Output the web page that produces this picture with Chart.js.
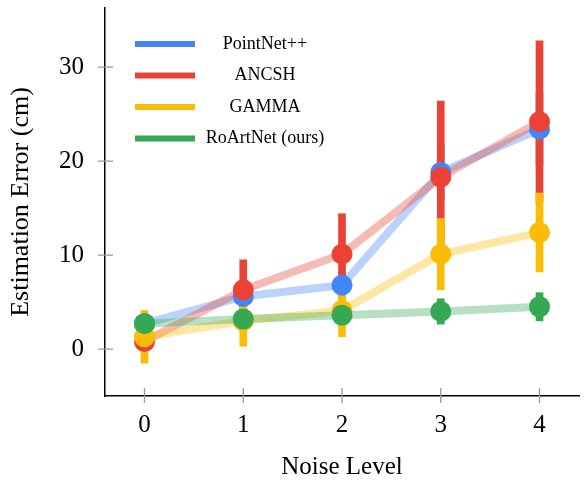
<!DOCTYPE html>
<html>
<head>
<meta charset="utf-8">
<script src="https://cdn.jsdelivr.net/npm/chart.js@4/dist/chart.umd.min.js"></script>
<style>
  body { margin: 0; background: #fff; }
  #wrap { width: 587px; height: 482px; }
</style>
</head>
<body>
<div id="wrap"><canvas id="errChart" width="587" height="482"></canvas></div>
<script>
const serif = "'Liberation Serif', 'Times New Roman', serif"

// data
const noiseLevels = [0, 1, 2, 3, 4]
const yTicks = [0, 10, 20, 30]
const seriesNames = ['PointNet++', 'ANCSH', 'GAMMA', 'RoArtNet (ours)']

const pointnetMean = [2.7, 5.6, 6.8, 18.8, 23.4]
const pointnetErr = [1.0, 1.5, 1.5, 3.0, 3.9]
const ancshMean = [0.8, 6.3, 10.1, 18.3, 24.2]
const ancshErr = [1.0, 3.2, 4.3, 8.1, 8.6]
const gammaMean = [1.3, 3.0, 4.1, 10.1, 12.4]
const gammaErr = [2.8, 2.7, 2.8, 3.8, 4.2]
const roartMean = [2.7, 3.2, 3.6, 4.0, 4.5]
const roartErr = [0.8, 0.8, 1.0, 1.35, 1.5]

const blue = '66,133,244'
const red = '234,67,53'
const yellow = '251,188,5'
const green = '52,168,83'

const series = [
  { name: seriesNames[0], mean: pointnetMean, err: pointnetErr, rgb: blue, z: 3 },
  { name: seriesNames[1], mean: ancshMean, err: ancshErr, rgb: red, z: 2 },
  { name: seriesNames[2], mean: gammaMean, err: gammaErr, rgb: yellow, z: 1 },
  { name: seriesNames[3], mean: roartMean, err: roartErr, rgb: green, z: 0 },
]

var datasets = []
series.forEach(function (s) {
  // faded connecting line
  datasets.push({
    type: 'line',
    label: s.name + ' line',
    data: noiseLevels.map(function (x, i) { return { x: x, y: s.mean[i] } }),
    borderColor: 'rgba(' + s.rgb + ',0.36)',
    borderWidth: 8,
    pointRadius: 0,
    tension: 0,
    fill: false,
    order: 30 + s.z,
  })
  // error bars as floating bars
  datasets.push({
    type: 'bar',
    label: s.name + ' err',
    data: noiseLevels.map(function (x, i) { return { x: x, y: [s.mean[i] - s.err[i], s.mean[i] + s.err[i]] } }),
    backgroundColor: 'rgb(' + s.rgb + ')',
    borderWidth: 0,
    barThickness: 7,
    grouped: false,
    order: 20 + s.z,
  })
  // markers
  datasets.push({
    type: 'line',
    label: s.name,
    data: noiseLevels.map(function (x, i) { return { x: x, y: s.mean[i] } }),
    showLine: false,
    pointRadius: 10.5,
    pointBorderWidth: 0,
    pointBackgroundColor: 'rgb(' + s.rgb + ')',
    borderColor: 'rgb(' + s.rgb + ')',
    order: 10 + s.z,
  })
})

// tick marks that cross the axis line
const crossTicks = {
  id: 'crossTicks',
  beforeDatasetsDraw(chart) {
    var ctx = chart.ctx
    var xs = chart.scales.x, ys = chart.scales.y
    ctx.save()
    ctx.strokeStyle = '#9a9a9a'
    ctx.lineWidth = 1.3
    ctx.beginPath()
    noiseLevels.forEach(function (v) {
      var px = xs.getPixelForValue(v)
      ctx.moveTo(px, ys.bottom - 8)
      ctx.lineTo(px, ys.bottom + 7)
    })
    yTicks.forEach(function (v) {
      var py = ys.getPixelForValue(v)
      ctx.moveTo(xs.left - 7, py)
      ctx.lineTo(xs.left + 8, py)
    })
    ctx.stroke()
    ctx.restore()
  }
}

// legend box in the upper left of the plot
const innerLegend = {
  id: 'innerLegend',
  afterDatasetsDraw(chart) {
    var ctx = chart.ctx
    var a = chart.chartArea
    ctx.save()
    ctx.font = '18px ' + serif
    ctx.textAlign = 'center'
    ctx.textBaseline = 'middle'
    series.forEach(function (s, i) {
      var y = a.top + 36 + i * 31.5
      ctx.strokeStyle = 'rgb(' + s.rgb + ')'
      ctx.lineWidth = 6
      ctx.beginPath()
      ctx.moveTo(a.left + 30, y)
      ctx.lineTo(a.left + 90, y)
      ctx.stroke()
      ctx.fillStyle = '#000'
      ctx.fillText(s.name, a.left + 160, y)
    })
    ctx.restore()
  }
}

var ctx = document.getElementById('errChart')
new Chart(ctx, {
  type: 'line',
  data: { datasets: datasets },
  options: {
    responsive: false,
    animation: false,
    layout: { autoPadding: false, padding: { top: 8, right: 8, left: 0, bottom: 0 } },
    plugins: {
      legend: { display: false },
      tooltip: { enabled: false },
    },
    scales: {
      x: {
        type: 'linear',
        min: -0.4,
        max: 4.4,
        offset: false,
        afterBuildTicks: function (scale) {
          scale.ticks = noiseLevels.map(function (v) { return { value: v } })
        },
        afterFit: function (scale) {
          scale.height = 86
          scale.paddingLeft = 0
          scale.paddingRight = 0
        },
        grid: { display: false, drawTicks: false },
        border: { display: true, color: '#000', width: 1.5 },
        ticks: { color: '#000', padding: 14, font: { family: serif, size: 25 } },
        title: {
          display: true,
          text: 'Noise Level',
          color: '#000',
          padding: { top: 0, bottom: 0 },
          font: { family: serif, size: 25 },
        },
      },
      y: {
        type: 'linear',
        min: -5,
        max: 36.3,
        afterBuildTicks: function (scale) {
          scale.ticks = yTicks.map(function (v) { return { value: v } })
        },
        afterFit: function (scale) {
          scale.width = 105
          scale.paddingTop = 0
          scale.paddingBottom = 0
        },
        grid: { display: false, drawTicks: false },
        border: { display: true, color: '#000', width: 1.5 },
        ticks: { color: '#000', padding: 21, font: { family: serif, size: 25 } },
        title: {
          display: true,
          text: 'Estimation Error (cm)',
          color: '#000',
          padding: { top: 6, bottom: 0 },
          font: { family: serif, size: 26 },
        },
      },
    },
  },
  plugins: [crossTicks, innerLegend],
})
</script>
</body>
</html>
